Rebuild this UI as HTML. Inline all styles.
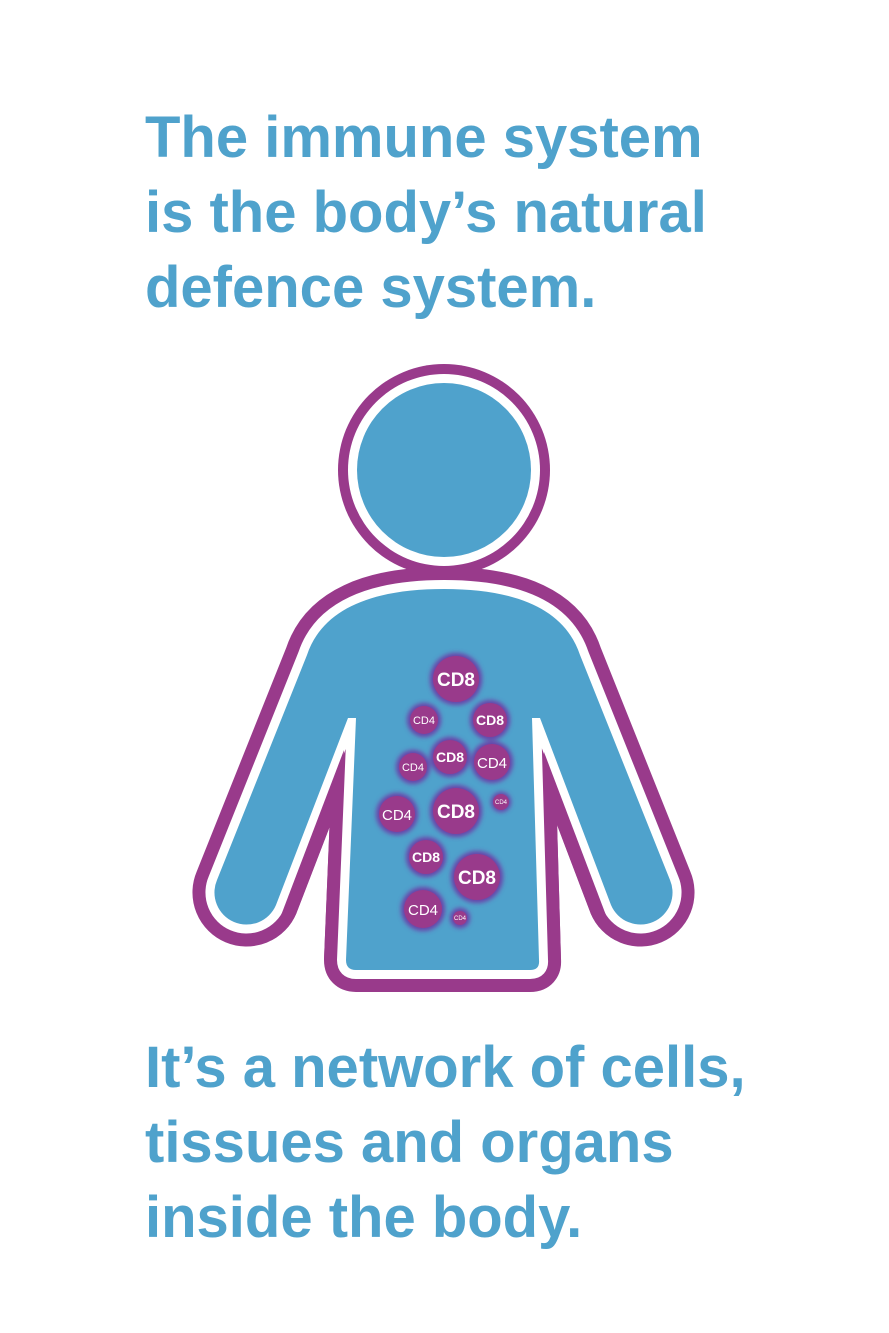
<!DOCTYPE html>
<html><head><meta charset="utf-8"><style>
html,body{margin:0;padding:0;background:#fff;}
svg{display:block}
text{font-family:"Liberation Sans",sans-serif;}
</style></head><body>
<svg width="889" height="1333" viewBox="0 0 889 1333" xmlns="http://www.w3.org/2000/svg">
<defs>
<filter id="g" x="-50%" y="-50%" width="200%" height="200%"><feGaussianBlur stdDeviation="2.5"/></filter>
<path id="body" d="M444,589 C370,589 322,610 307,655 L217,880 A31,31 0 0 0 276,905 L348,718 L356,718 L346,960 Q346,970 356,970 L530,970 Q540,970 539,960 L532,718 L540,718 L611,905 A31,31 0 0 0 670,880 L580,655 C565,610 518,589 444,589 Z"/>
<mask id="m" maskUnits="userSpaceOnUse" x="0" y="0" width="889" height="1333">
<use href="#body" fill="#fff" stroke="#fff" stroke-width="44" stroke-linejoin="round"/>
</mask>
</defs>
<g font-size="58" font-weight="bold" fill="#4fa2cc">
<text x="145" y="157">The immune system</text>
<text x="145" y="232">is the body’s natural</text>
<text x="145" y="307">defence system.</text>
<text x="145" y="1087">It’s a network of cells,</text>
<text x="145" y="1162">tissues and organs</text>
<text x="145" y="1237">inside the body.</text>
</g>
<!-- head -->
<circle cx="444" cy="470" r="106" fill="#993a8b"/>
<circle cx="444" cy="470" r="96" fill="#fff"/>
<circle cx="444" cy="470" r="87" fill="#4fa2cc"/>
<!-- body -->
<use href="#body" fill="#993a8b" stroke="#993a8b" stroke-width="44" stroke-linejoin="round"/>
<use href="#body" fill="#fff" stroke="#fff" stroke-width="18" stroke-linejoin="round"/>
<g fill="#993a8b" mask="url(#m)">
<polygon points="344,750 264,960 336,960"/>
<polygon points="544,752 623,960 552,960"/>
</g>
<use href="#body" fill="#4fa2cc"/>
<!-- cells -->
<g>
<g filter="url(#g)" fill="#6b3fa8">
<circle cx="456" cy="679" r="26"/><circle cx="424" cy="720" r="17"/><circle cx="490" cy="720" r="20"/>
<circle cx="450" cy="757" r="20"/><circle cx="492" cy="762" r="21"/><circle cx="413" cy="767" r="17"/>
<circle cx="501" cy="802" r="10"/><circle cx="456" cy="811" r="26"/><circle cx="397" cy="814" r="21"/>
<circle cx="426" cy="857" r="20"/><circle cx="477" cy="877" r="26"/><circle cx="423" cy="909" r="22"/>
<circle cx="460" cy="918" r="10"/>
</g>
<g fill="#993a8b">
<circle cx="456" cy="679" r="23"/><circle cx="424" cy="720" r="14"/><circle cx="490" cy="720" r="17"/>
<circle cx="450" cy="757" r="17"/><circle cx="492" cy="762" r="18"/><circle cx="413" cy="767" r="14"/>
<circle cx="501" cy="802" r="8"/><circle cx="456" cy="811" r="23"/><circle cx="397" cy="814" r="18"/>
<circle cx="426" cy="857" r="17"/><circle cx="477" cy="877" r="23"/><circle cx="423" cy="909" r="19"/>
<circle cx="460" cy="918" r="7"/>
</g>
<g fill="#fff" text-anchor="middle">
<text x="456" y="686" font-size="19" font-weight="bold">CD8</text>
<text x="424" y="724" font-size="11">CD4</text>
<text x="490" y="725" font-size="14" font-weight="bold">CD8</text>
<text x="450" y="762" font-size="14" font-weight="bold">CD8</text>
<text x="492" y="768" font-size="15">CD4</text>
<text x="413" y="771" font-size="11">CD4</text>
<text x="501" y="804" font-size="6">CD4</text>
<text x="456" y="818" font-size="19" font-weight="bold">CD8</text>
<text x="397" y="820" font-size="15">CD4</text>
<text x="426" y="862" font-size="14" font-weight="bold">CD8</text>
<text x="477" y="884" font-size="19" font-weight="bold">CD8</text>
<text x="423" y="915" font-size="15">CD4</text>
<text x="460" y="920" font-size="6">CD4</text>
</g>
</g>
</svg>
</body></html>
